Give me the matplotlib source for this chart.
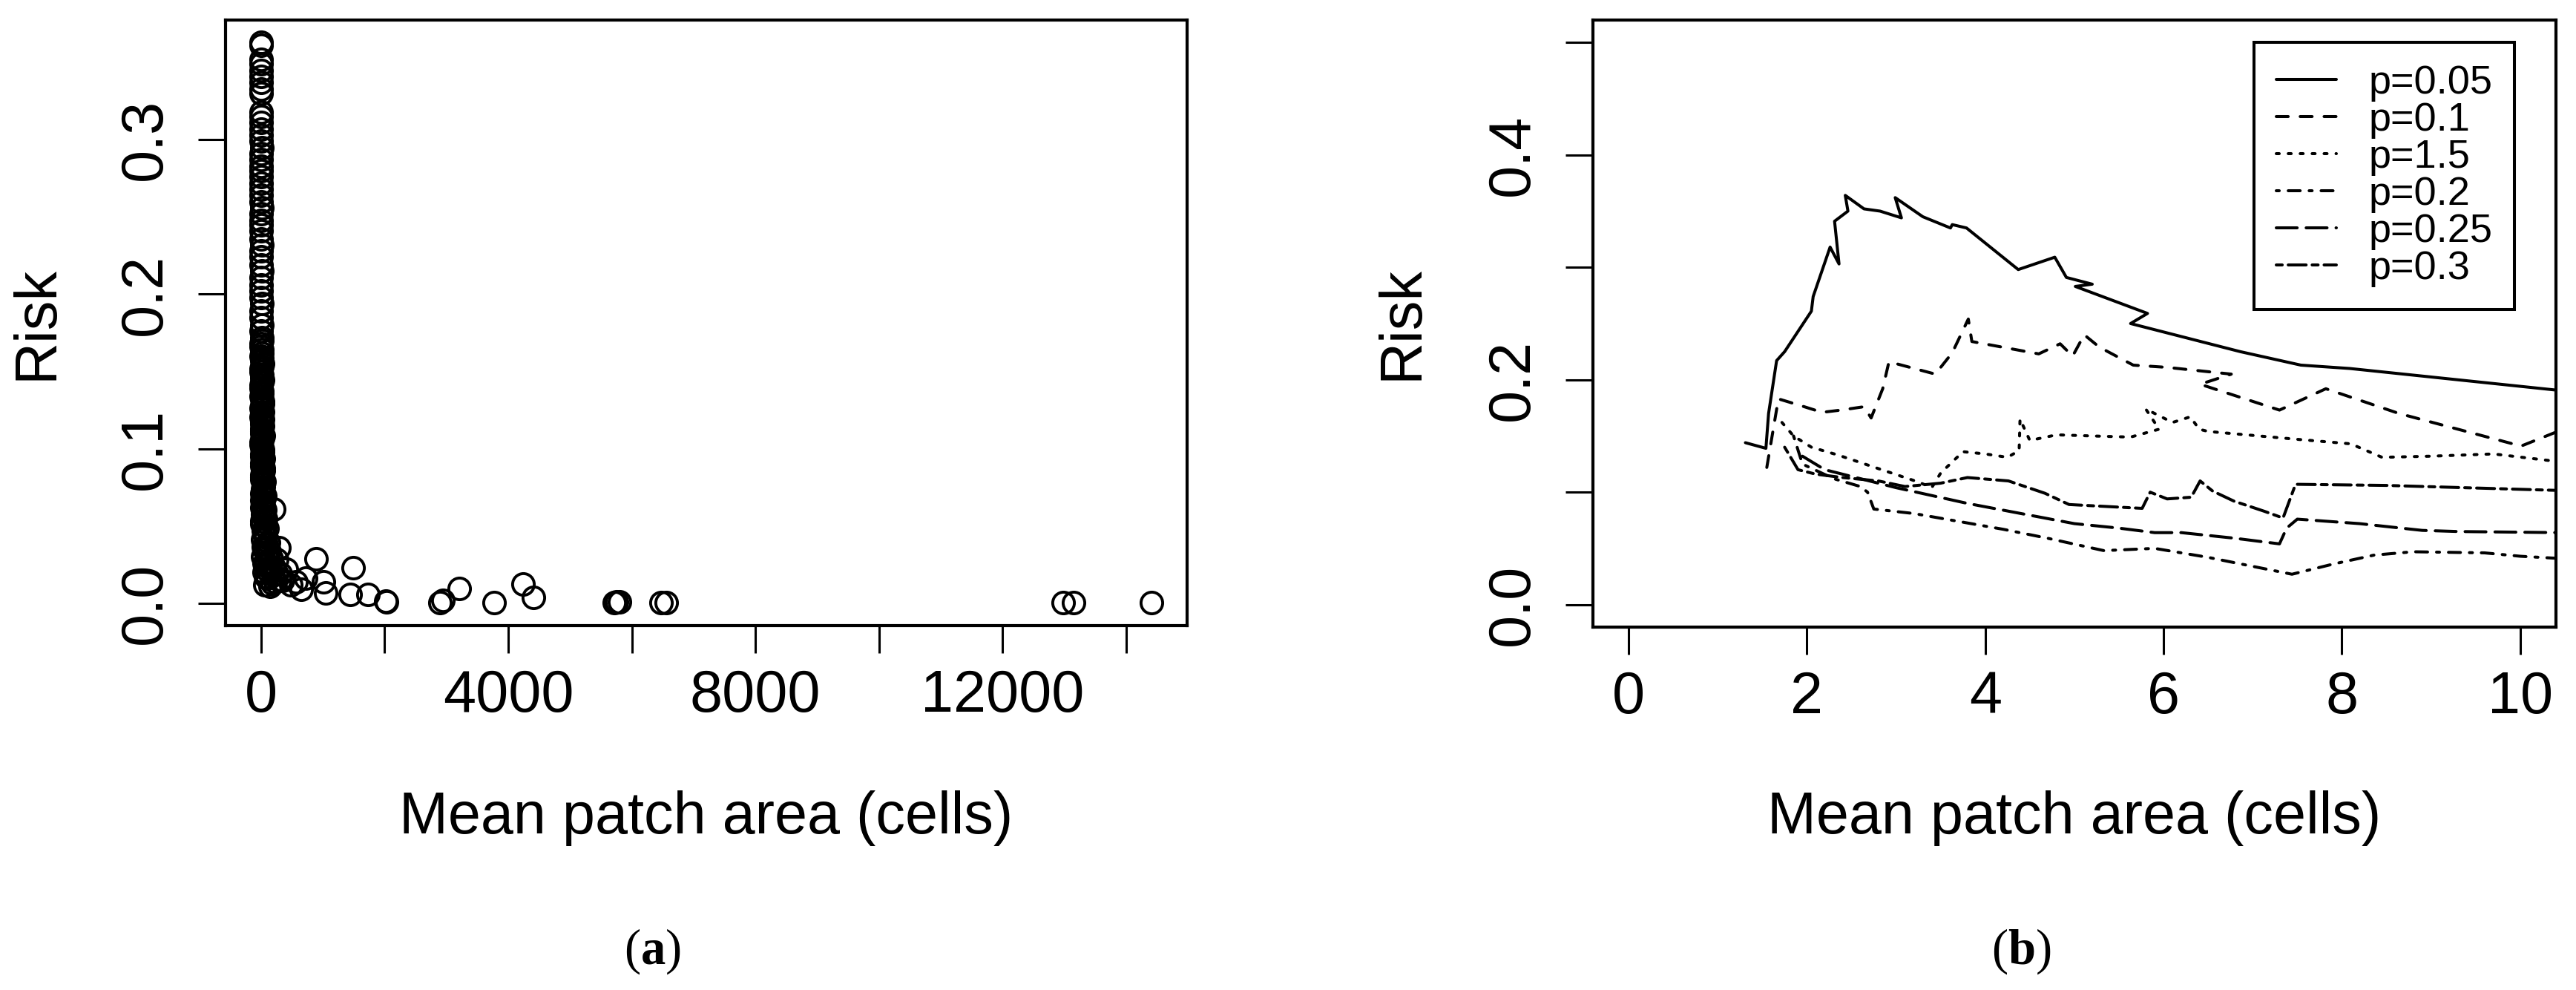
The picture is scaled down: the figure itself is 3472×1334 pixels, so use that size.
import numpy as np
import matplotlib.pyplot as plt

plt.rcParams['font.family'] = ['Liberation Sans', 'DejaVu Sans']
plt.rcParams['mathtext.fontset'] = 'custom'
plt.rcParams['mathtext.rm'] = 'Liberation Serif'
plt.rcParams['mathtext.bf'] = 'Liberation Serif:bold'

# --- panel (a): risk vs mean patch area, scatter ---
col_y = [0.363, 0.361, 0.352, 0.349, 0.345, 0.341, 0.337, 0.333, 0.330,
         0.318, 0.315, 0.311, 0.307, 0.303, 0.299, 0.295, 0.291, 0.287, 0.283,
         0.280, 0.276, 0.272, 0.268, 0.264, 0.260, 0.256, 0.252, 0.248, 0.245,
         0.241, 0.236, 0.232, 0.228, 0.224, 0.219, 0.215, 0.211, 0.206, 0.202,
         0.198, 0.194, 0.189, 0.185, 0.180, 0.176, 0.172,
         0.168, 0.164, 0.160, 0.157, 0.153, 0.150, 0.146, 0.143, 0.139, 0.136,
         0.132, 0.129, 0.126, 0.122, 0.119, 0.116, 0.113, 0.110, 0.107, 0.104, 0.101,
         0.098, 0.095, 0.092, 0.089, 0.086, 0.083, 0.080, 0.077, 0.074, 0.071,
         0.068, 0.065, 0.062, 0.059, 0.056, 0.053, 0.050,
         0.047, 0.044, 0.041, 0.038, 0.035, 0.032, 0.030, 0.027, 0.025, 0.022,
         0.020, 0.018, 0.016, 0.014, 0.012, 0.011]
col_x = [4, 2, 6, 3, 5, 2, 7, 4, 3,
         5, 3, 8, 2, 6, 4, 9, 3, 5, 7, 2, 6, 4, 8, 3, 5, 10, 4, 6, 2,
         7, 5, 9, 3, 6, 4, 11, 5, 8, 3, 6, 12, 4, 7, 9, 5, 14,
         8, 15, 4, 11, 18, 6, 13, 20, 7, 16, 10, 22, 5, 14, 25, 9, 19, 12, 28, 7, 17,
         24, 10, 31, 15, 36, 20, 12, 40, 26, 9, 45, 30, 18, 52, 35, 14, 60,
         40, 75, 22, 90, 55, 110, 30, 130, 70, 160, 45, 190, 100, 230, 60, 150]

# second, interleaved run of small patches (the solid black lower column)
col2_y = [0.170, 0.166, 0.162, 0.1585, 0.155, 0.1515, 0.148, 0.1445, 0.141, 0.1375,
          0.134, 0.1305, 0.1275, 0.124, 0.1205, 0.1175, 0.1145, 0.1115, 0.1085,
          0.1055, 0.1025, 0.0995, 0.0965, 0.0935, 0.0905, 0.0875, 0.0845, 0.0815,
          0.0785, 0.0755, 0.0725, 0.0695, 0.0665, 0.0635, 0.0605, 0.0575, 0.0545,
          0.0515, 0.0485, 0.0455, 0.0425, 0.0395, 0.0365, 0.0335, 0.031, 0.0285,
          0.026, 0.0235, 0.021, 0.019, 0.017, 0.015, 0.013]
col2_x = [12, 5, 17, 9, 21, 3, 14, 26, 8, 19, 4, 23, 11, 30, 6, 18, 27, 10, 33,
          15, 7, 29, 20, 38, 12, 44, 25, 16, 50, 34, 21, 58, 13, 42, 66, 28, 80,
          19, 95, 48, 70, 120, 36, 140, 85, 175, 52, 210, 110, 260, 75, 300, 180]

tail_x = [208, 260, 288, 320, 350, 408, 480, 568, 650, 725, 887, 1007, 1047,
          1444, 1486, 1726, 2025, 2033, 2899, 2939, 3211, 3777, 4244, 4412,
          5714, 5750, 5797, 6472, 6555, 12981, 13148, 14408]
tail_y = [0.061, 0.028, 0.036, 0.019, 0.015, 0.022, 0.012, 0.0137, 0.009, 0.0163,
          0.0288, 0.0137, 0.0067, 0.0057, 0.0228, 0.0057, 0.0014, 0.001, 0.0005,
          0.002, 0.0096, 0.0005, 0.0125, 0.0038, 0.0005, 0.0008, 0.001, 0.0003,
          0.0003, 0.0002, 0.0002, 0.0003]

area_a = col_x + col2_x + tail_x
risk_a = col_y + col2_y + tail_y

# --- panel (b): risk vs mean patch area by p ---
p_labels = ['p=0.05', 'p=0.1', 'p=1.5', 'p=0.2', 'p=0.25', 'p=0.3']

x_p005 = [1.31, 1.54, 1.57, 1.66, 1.75, 2.05, 2.07, 2.26, 2.36, 2.31, 2.46, 2.43,
          2.64, 2.82, 3.06, 2.99, 3.30, 3.61, 3.63, 3.79, 4.37, 4.78, 4.91, 5.20,
          5.01, 5.82, 5.63, 6.86, 7.54, 8.09, 10.38, 11.0]
y_p005 = [0.144, 0.139, 0.170, 0.217, 0.225, 0.261, 0.274, 0.318, 0.303, 0.341,
          0.350, 0.364, 0.352, 0.350, 0.344, 0.362, 0.345, 0.335, 0.338, 0.335,
          0.298, 0.309, 0.291, 0.285, 0.283, 0.259, 0.250, 0.225, 0.213, 0.210,
          0.191, 0.186]

x_p01 = [1.55, 1.68, 1.93, 2.17, 2.38, 2.64, 2.72, 2.85, 2.92, 3.44, 3.63, 3.81,
         3.85, 4.60, 4.84, 4.98, 5.11, 5.28, 5.66, 6.04, 6.76, 6.41, 7.30, 7.82,
         8.64, 10.01, 10.42, 10.8]
y_p01 = [0.122, 0.183, 0.177, 0.171, 0.173, 0.176, 0.166, 0.192, 0.216, 0.205,
         0.224, 0.254, 0.234, 0.223, 0.232, 0.221, 0.240, 0.229, 0.213, 0.211,
         0.205, 0.196, 0.173, 0.192, 0.170, 0.141, 0.154, 0.165]

x_p15 = [1.72, 1.85, 2.05, 2.35, 2.65, 2.95, 3.25, 3.40, 3.50, 3.75, 4.00, 4.25,
         4.38, 4.39, 4.50, 4.80, 5.20, 5.63, 5.95, 5.80, 6.00, 6.10, 6.30, 6.40,
         6.50, 7.50, 8.10, 8.45, 9.00, 9.70, 10.45]
y_p15 = [0.162, 0.150, 0.140, 0.133, 0.125, 0.117, 0.109, 0.104, 0.117, 0.136,
         0.134, 0.131, 0.137, 0.165, 0.146, 0.151, 0.150, 0.149, 0.156, 0.174,
         0.166, 0.162, 0.167, 0.156, 0.154, 0.147, 0.143, 0.131, 0.132, 0.134, 0.127]

x_p02 = [1.85, 1.95, 2.30, 2.60, 2.68, 2.75, 3.20, 3.70, 4.20, 4.70, 5.33, 5.90,
         6.50, 7.00, 7.44, 7.90, 8.36, 8.80, 9.60, 10.00, 10.45]
y_p02 = [0.150, 0.125, 0.112, 0.105, 0.100, 0.085, 0.081, 0.074, 0.067, 0.059,
         0.048, 0.050, 0.042, 0.034, 0.027, 0.036, 0.044, 0.047, 0.046, 0.043, 0.041]

x_p025 = [1.95, 2.20, 2.60, 3.00, 3.40, 3.80, 4.20, 4.60, 5.00, 5.50, 5.90, 6.20,
          6.80, 7.30, 7.38, 7.50, 8.20, 8.90, 9.30, 10.45]
y_p025 = [0.132, 0.120, 0.112, 0.104, 0.097, 0.090, 0.084, 0.078, 0.072, 0.068,
          0.064, 0.064, 0.059, 0.054, 0.068, 0.076, 0.072, 0.066, 0.065, 0.064]

x_p03 = [1.75, 1.90, 2.10, 2.40, 2.80, 3.10, 3.50, 3.80, 4.26, 4.67, 4.94, 5.30,
         5.76, 5.85, 6.04, 6.31, 6.41, 6.55, 6.79, 7.13, 7.34, 7.48, 8.50, 10.45]
y_p03 = [0.140, 0.120, 0.116, 0.113, 0.110, 0.105, 0.108, 0.113, 0.110, 0.099,
         0.089, 0.0875, 0.0856, 0.100, 0.094, 0.0955, 0.110, 0.101, 0.092, 0.083,
         0.077, 0.107, 0.106, 0.1015]

xs_b = [x_p005, x_p01, x_p15, x_p02, x_p025, x_p03]
ys_b = [y_p005, y_p01, y_p15, y_p02, y_p025, y_p03]
# R lty 1..6
ltys = ['-', (0, (4, 4)), (0, (1, 3)), (0, (1, 3, 4, 3)), (0, (7, 3)), (0, (2, 2, 6, 2))]

fig = plt.figure(figsize=(34.73, 13.34), dpi=100)
ax1 = fig.add_axes([0.0875, 0.3681, 0.3732, 0.6117])
ax2 = fig.add_axes([0.6182, 0.3666, 0.3737, 0.6132])

ax1.plot(area_a, risk_a, 'o', mfc='none', mec='black', ms=21, mew=2.8, linestyle='none')
ax1.set_xlim(-575, 14984)
ax1.set_ylim(-0.0145, 0.3775)
ax1.set_xticks(np.arange(0, 14001, 2000))
ax1.set_xticklabels(['0', '', '4000', '', '8000', '', '12000', ''])
ax1.set_yticks([0, 0.1, 0.2, 0.3])
ax1.set_yticklabels(['0.0', '0.1', '0.2', '0.3'])

for xv, yv, ls, lab in zip(xs_b, ys_b, ltys, p_labels):
    ax2.plot(xv, yv, color='black', lw=2.9, linestyle=ls,
             dash_capstyle='round', solid_capstyle='round', label=lab)
ax2.set_xlim(-0.4, 10.4)
ax2.set_ylim(-0.02, 0.52)
ax2.set_xticks(np.arange(0, 11, 2))
ax2.set_yticks([0, 0.1, 0.2, 0.3, 0.4, 0.5])
ax2.set_yticklabels(['0.0', '', '0.2', '', '0.4', ''])

for ax in (ax1, ax2):
    for s in ax.spines.values():
        s.set_linewidth(3)
    ax.tick_params(direction='out', length=26.6, width=2.2, labelsize=57)
    ax.tick_params(axis='x', pad=15)
    ax.tick_params(axis='y', pad=24, labelrotation=90)
    for lbl in ax.get_yticklabels():
        lbl.set_va('center')

leg = ax2.legend(loc='upper right', bbox_to_anchor=(3389 / 3473, 1 - 57 / 1334),
                 bbox_transform=fig.transFigure, fontsize=39, fancybox=False,
                 edgecolor='black', framealpha=1, borderpad=0.55, labelspacing=0.0,
                 handlelength=1.5, handletextpad=0.8, borderaxespad=0)
leg.get_frame().set_linewidth(2.9)

# axis titles
fig.text(0.2741, 0.1582, 'Mean patch area (cells)', fontsize=57, ha='center', va='baseline')
fig.text(0.8051, 0.1582, 'Mean patch area (cells)', fontsize=57, ha='center', va='baseline')
fig.text(0.0204, 0.6739, 'Risk', fontsize=57, rotation=90, rotation_mode='anchor',
         ha='center', va='baseline')
fig.text(0.5500, 0.6739, 'Risk', fontsize=57, rotation=90, rotation_mode='anchor',
         ha='center', va='baseline')

# panel captions
fig.text(0.2531, 0.039, r'($\mathbf{a}$)', fontsize=48, family='Liberation Serif',
         ha='center', va='center')
fig.text(0.7843, 0.039, r'($\mathbf{b}$)', fontsize=48, family='Liberation Serif',
         ha='center', va='center')

fig.savefig('out.png', dpi=100)
